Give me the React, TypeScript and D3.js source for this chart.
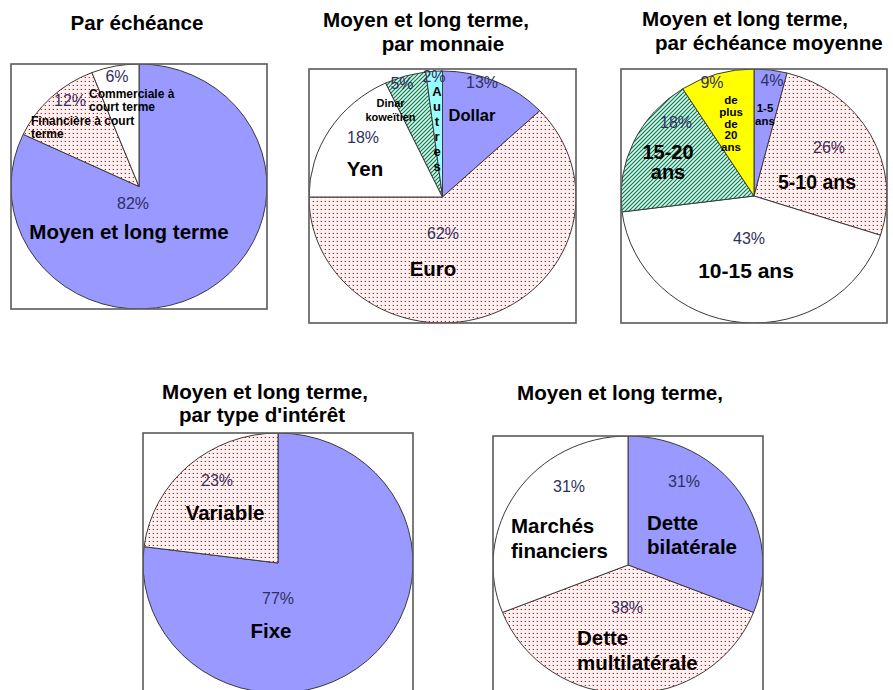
import React from "react";
import * as d3 from "d3";

// ---- Data ----
// Par échéance
const maturityNames = ["Moyen et long terme", "Financière à court terme", "Commerciale à court terme"];
const maturityValues = [82, 12, 6];

// Moyen et long terme, par monnaie
const currencyNames = ["Dollar", "Euro", "Yen", "Dinar koweïtien", "Autres"];
const currencyValues = [13, 62, 18, 5, 2];

// Moyen et long terme, par échéance moyenne
const avgMaturityNames = ["1-5 ans", "5-10 ans", "10-15 ans", "15-20 ans", "de plus de 20 ans"];
const avgMaturityValues = [4, 26, 43, 18, 9];

// Moyen et long terme, par type d'intérêt
const rateNames = ["Fixe", "Variable"];
const rateValues = [77, 23];

// Moyen et long terme, par source
const sourceNames = ["Dette bilatérale", "Dette multilatérale", "Marchés financiers"];
const sourceValues = [31, 38, 31];

// ---- Styling / layout ----
const FONT = "'Liberation Sans', Arial, Helvetica, sans-serif";
const BLUE = "#9999ff";
const CYAN = "#99ffff";
const YELLOW = "#ffff00";
const WHITE = "#ffffff";
const DOTS = "url(#dots)";
const HATCH = "url(#hatch)";
const PCT_COLOR = "#303060";
const TITLE_SIZE = 20.6;

type Anchor = "start" | "middle" | "end";

interface NameLabel {
  lines: string[];
  dx: number;
  dy: number;
  size: number;
  anchor: Anchor;
  lh: number;
}

interface TitleLine {
  text: string;
  x: number;
  y: number;
  anchor: Anchor;
}

interface PieSpec {
  id: string;
  values: number[];
  fills: string[];
  box: [number, number, number, number];
  cx: number;
  cy: number;
  rx: number;
  ry: number;
  title: TitleLine[];
  pct: [number, number][];
  names: NameLabel[];
}

const pies: PieSpec[] = [
  {
    id: "p1",
    values: maturityValues,
    fills: [BLUE, DOTS, WHITE],
    box: [11, 64, 267, 309],
    cx: 139,
    cy: 186.5,
    rx: 128,
    ry: 122.5,
    title: [{ text: "Par échéance", x: 137, y: 22, anchor: "middle" }],
    pct: [[-6, 17], [-69, -86], [-22, -110]],
    names: [
      { lines: ["Moyen et long terme"], dx: -10, dy: 44, size: 20.5, anchor: "middle", lh: 0 },
      { lines: ["Financière à court", "terme"], dx: -108, dy: -66, size: 12, anchor: "start", lh: 13 },
      { lines: ["Commerciale à", "court terme"], dx: -50, dy: -93, size: 12, anchor: "start", lh: 13 },
    ],
  },
  {
    id: "p2",
    values: currencyValues,
    fills: [BLUE, DOTS, WHITE, HATCH, CYAN],
    box: [309, 69, 576, 323],
    cx: 442.5,
    cy: 197,
    rx: 133.5,
    ry: 126,
    title: [
      { text: "Moyen et long terme,", x: 426, y: 19.5, anchor: "middle" },
      { text: "par monnaie", x: 443, y: 43, anchor: "middle" },
    ],
    pct: [[39.5, -115], [0.5, 36], [-79.5, -60], [-40.5, -114], [-8.5, -121]],
    names: [
      { lines: ["Dollar"], dx: 29.5, dy: -82, size: 16.5, anchor: "middle", lh: 0 },
      { lines: ["Euro"], dx: -9.5, dy: 71, size: 20.5, anchor: "middle", lh: 0 },
      { lines: ["Yen"], dx: -77.5, dy: -29, size: 20.5, anchor: "middle", lh: 0 },
      { lines: ["Dinar", "koweïtien"], dx: -52, dy: -94, size: 11, anchor: "middle", lh: 14 },
      { lines: ["A", "u", "t", "r", "e", "s"], dx: -5.5, dy: -106, size: 13, anchor: "middle", lh: 15 },
    ],
  },
  {
    id: "p3",
    values: avgMaturityValues,
    fills: [BLUE, DOTS, WHITE, HATCH, YELLOW],
    box: [621, 69, 887, 323],
    cx: 754,
    cy: 196,
    rx: 133,
    ry: 127,
    title: [
      { text: "Moyen et long terme,", x: 745, y: 18, anchor: "middle" },
      { text: "par échéance moyenne", x: 655, y: 42, anchor: "start" },
    ],
    pct: [[18, -116], [75, -49], [-5, 42], [-78, -74], [-42, -114]],
    names: [
      { lines: ["1-5", "ans"], dx: 11, dy: -88, size: 11.5, anchor: "middle", lh: 13 },
      { lines: ["5-10 ans"], dx: 63, dy: -14, size: 19.5, anchor: "middle", lh: 0 },
      { lines: ["10-15 ans"], dx: -8, dy: 74, size: 21, anchor: "middle", lh: 0 },
      { lines: ["15-20", "ans"], dx: -86, dy: -44, size: 20, anchor: "middle", lh: 20 },
      { lines: ["de", "plus", "de", "20", "ans"], dx: -23, dy: -96, size: 11.5, anchor: "middle", lh: 11.8 },
    ],
  },
  {
    id: "p4",
    values: rateValues,
    fills: [BLUE, DOTS],
    box: [143, 433, 413, 693],
    cx: 278,
    cy: 563,
    rx: 135,
    ry: 130,
    title: [
      { text: "Moyen et long terme,", x: 265, y: 391, anchor: "middle" },
      { text: "par type d'intérêt", x: 262, y: 414, anchor: "middle" },
    ],
    pct: [[0, 35], [-61, -83]],
    names: [
      { lines: ["Fixe"], dx: -7, dy: 67, size: 20.5, anchor: "middle", lh: 0 },
      { lines: ["Variable"], dx: -53, dy: -51, size: 20.5, anchor: "middle", lh: 0 },
    ],
  },
  {
    id: "p5",
    values: sourceValues,
    fills: [BLUE, DOTS, WHITE],
    box: [493, 436, 763, 696],
    cx: 628,
    cy: 565,
    rx: 135,
    ry: 129,
    title: [{ text: "Moyen et long terme,", x: 620, y: 392, anchor: "middle" }],
    pct: [[56, -84], [-1, 42], [-59, -79]],
    names: [
      { lines: ["Dette", "bilatérale"], dx: 19, dy: -43, size: 20.5, anchor: "start", lh: 23.5 },
      { lines: ["Dette", "multilatérale"], dx: -51, dy: 72, size: 20.5, anchor: "start", lh: 24.5 },
      { lines: ["Marchés", "financiers"], dx: -117, dy: -40, size: 20.5, anchor: "start", lh: 25 },
    ],
  },
];

// Elliptical wedge: angles in d3 convention (0 at 12 o'clock, clockwise)
function wedgePath(cx: number, cy: number, rx: number, ry: number, a0: number, a1: number): string {
  const pt = (a: number) => [cx + rx * Math.sin(a), cy - ry * Math.cos(a)];
  const [x0, y0] = pt(a0);
  const [x1, y1] = pt(a1);
  const large = a1 - a0 > Math.PI ? 1 : 0;
  return `M${cx},${cy}L${x0},${y0}A${rx},${ry} 0 ${large} 1 ${x1},${y1}Z`;
}

const pieGen = d3
  .pie<number>()
  .sort(null)
  .value((d) => d);

function PieChart({ spec }: { spec: PieSpec }) {
  const arcs = pieGen(spec.values);
  const [bx0, by0, bx1, by1] = spec.box;
  const clipId = `clip-${spec.id}`;
  return (
    <g>
      <clipPath id={clipId}>
        <rect x={bx0} y={by0} width={bx1 - bx0} height={by1 - by0} />
      </clipPath>
      <g clipPath={`url(#${clipId})`}>
        {arcs.map((a, i) => (
          <path
            key={i}
            d={wedgePath(spec.cx, spec.cy, spec.rx, spec.ry, a.startAngle, a.endAngle)}
            fill={spec.fills[i]}
            stroke="#3a3a3a"
            strokeWidth={1}
            strokeLinejoin="round"
          />
        ))}
      </g>
      <rect
        x={bx0}
        y={by0}
        width={bx1 - bx0}
        height={by1 - by0}
        fill="none"
        stroke="#5a5a5a"
        strokeWidth={1.6}
      />
      {spec.title.map((t, i) => (
        <text
          key={`t${i}`}
          x={t.x}
          y={t.y}
          textAnchor={t.anchor}
          dominantBaseline="central"
          fontFamily={FONT}
          fontWeight="bold"
          fontSize={TITLE_SIZE}
          fill="#000"
        >
          {t.text}
        </text>
      ))}
      {arcs.map((a, i) => (
        <text
          key={`p${i}`}
          x={spec.cx + spec.pct[i][0]}
          y={spec.cy + spec.pct[i][1]}
          textAnchor="middle"
          dominantBaseline="central"
          fontFamily={FONT}
          fontSize={16}
          fill={PCT_COLOR}
        >
          {`${a.data}%`}
        </text>
      ))}
      {spec.names.map((n, i) => (
        <text
          key={`n${i}`}
          textAnchor={n.anchor}
          dominantBaseline="central"
          fontFamily={FONT}
          fontWeight="bold"
          fontSize={n.size}
          fill="#000"
        >
          {n.lines.map((line, j) => (
            <tspan key={j} x={spec.cx + n.dx} y={spec.cy + n.dy + j * n.lh}>
              {line}
            </tspan>
          ))}
        </text>
      ))}
    </g>
  );
}

export default function App() {
  return (
    <svg
      width={893}
      height={690}
      viewBox="0 0 893 690"
      style={{ position: "absolute", left: 0, top: 0, background: "#fff" }}
    >
      <defs>
        {/* red pin-dot fill on a faintly pink ground */}
        <pattern id="dots" x={0} y={0} width={4} height={4} patternUnits="userSpaceOnUse">
          <rect width={4} height={4} fill="#fff3f3" />
          <rect x={1} y={1} width={1} height={1} fill="#ff0000" shapeRendering="crispEdges" />
          <rect x={0} y={1} width={1} height={1} fill="#ffb0b0" shapeRendering="crispEdges" />
        </pattern>
        {/* dark green diagonal hatch */}
        <pattern id="hatch" width={4} height={4} patternUnits="userSpaceOnUse">
          <rect width={4} height={4} fill="#dcf5e8" />
          <path d="M-1,1 L1,-1 M0,4 L4,0 M3,5 L5,3" stroke="#007a55" strokeWidth={1.1} />
        </pattern>
      </defs>
      <rect width={893} height={690} fill="#fff" />
      {pies.map((p) => (
        <PieChart key={p.id} spec={p} />
      ))}
    </svg>
  );
}
